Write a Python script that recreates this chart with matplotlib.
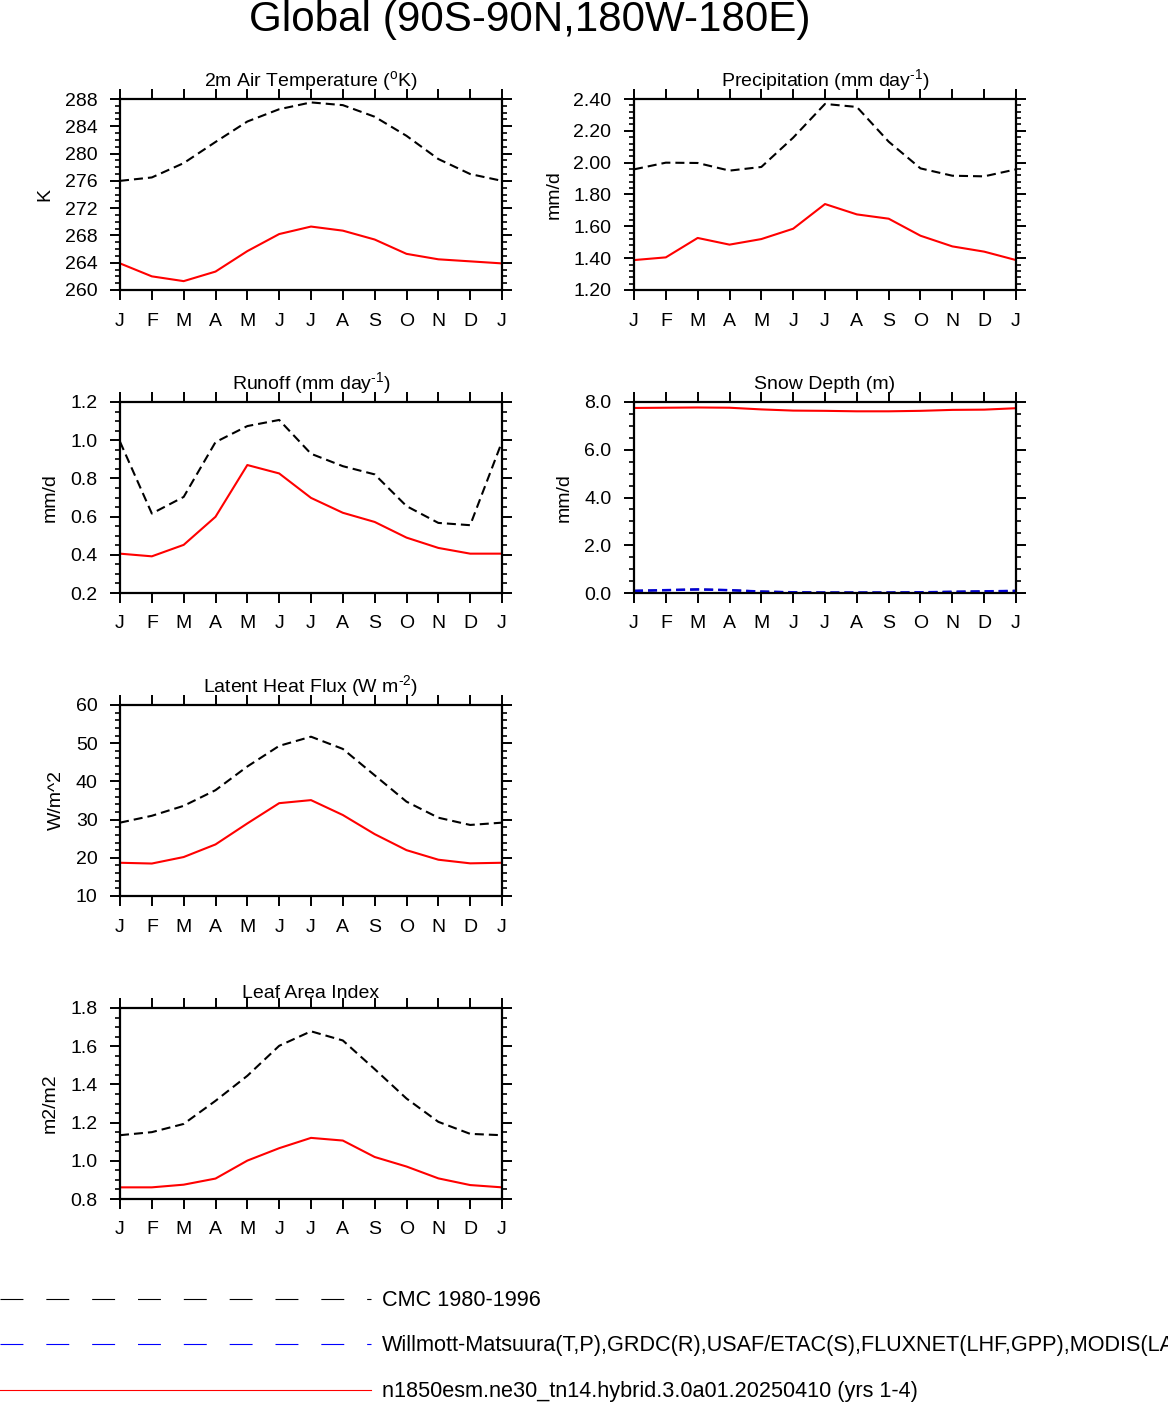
import numpy as np
import matplotlib
matplotlib.use("Agg")
import matplotlib.pyplot as plt
from matplotlib.lines import Line2D
from matplotlib.ticker import MultipleLocator, FormatStrFormatter

plt.rcParams['font.family'] = ['Liberation Sans', 'DejaVu Sans']
plt.rcParams['mathtext.fontset'] = 'custom'
plt.rcParams['mathtext.rm'] = 'Liberation Sans'
plt.rcParams['mathtext.it'] = 'Liberation Sans:italic'
plt.rcParams['mathtext.bf'] = 'Liberation Sans:bold'
plt.rcParams['lines.scale_dashes'] = False

months = ['J', 'F', 'M', 'A', 'M', 'J', 'J', 'A', 'S', 'O', 'N', 'D', 'J']

# 2m air temperature (K)
tsa_obs = [276.0, 276.5, 278.6, 281.7, 284.7, 286.5, 287.5, 287.1, 285.4, 282.6, 279.2, 277.0, 276.0]
tsa_mod = [263.9, 262.0, 261.3, 262.7, 265.7, 268.2, 269.3, 268.7, 267.4, 265.3, 264.5, 264.2, 263.9]

# precipitation (mm/d)
pre_obs = [1.958, 2.000, 1.998, 1.950, 1.973, 2.157, 2.369, 2.350, 2.132, 1.964, 1.918, 1.914, 1.958]
pre_mod = [1.388, 1.405, 1.527, 1.485, 1.520, 1.585, 1.740, 1.675, 1.648, 1.541, 1.474, 1.441, 1.388]

# runoff (mm/d)
ro_obs = [0.992, 0.616, 0.703, 0.990, 1.074, 1.106, 0.929, 0.864, 0.821, 0.655, 0.567, 0.555, 0.992]
ro_mod = [0.406, 0.392, 0.452, 0.599, 0.870, 0.826, 0.698, 0.620, 0.572, 0.490, 0.436, 0.406, 0.406]

# snow depth (m)
snow_obs = [0.09, 0.12, 0.15, 0.12, 0.06, 0.03, 0.02, 0.02, 0.02, 0.03, 0.05, 0.07, 0.09]
snow_mod = [7.75, 7.76, 7.77, 7.76, 7.69, 7.64, 7.63, 7.61, 7.61, 7.63, 7.67, 7.68, 7.74]

# latent heat flux (W/m2)
lhf_obs = [29.2, 31.0, 33.6, 37.7, 43.9, 49.3, 51.7, 48.5, 41.6, 34.7, 30.5, 28.6, 29.2]
lhf_mod = [18.7, 18.5, 20.2, 23.5, 29.0, 34.3, 35.1, 31.2, 26.2, 22.0, 19.5, 18.55, 18.7]

# leaf area index
lai_obs = [1.134, 1.150, 1.193, 1.314, 1.445, 1.602, 1.678, 1.630, 1.480, 1.326, 1.204, 1.141, 1.134]
lai_mod = [0.861, 0.861, 0.875, 0.907, 1.001, 1.066, 1.120, 1.106, 1.020, 0.970, 0.908, 0.873, 0.861]

legend_labels = ['CMC 1980-1996',
                 'Willmott-Matsuura(T,P),GRDC(R),USAF/ETAC(S),FLUXNET(LHF,GPP),MODIS(LAI)',
                 'n1850esm.ne30_tn14.hybrid.3.0a01.20250410 (yrs 1-4)']

W, H = 1168, 1402
fig = plt.figure(figsize=(W / 100, H / 100), dpi=100)

dash = (0, (6.5, 3.6))
lw = 1.5


def make_ax(left_px, top_px, ylim, major, minor, fmt, title, ylabel, title_off=10):
    ax = fig.add_axes([left_px / W, 1 - (top_px + 191) / H, 382 / W, 191 / H])
    ax.set_xlim(0, 12)
    ax.set_ylim(*ylim)
    ax.set_xticks(np.arange(13))
    ax.set_xticklabels(months)
    ax.yaxis.set_major_locator(MultipleLocator(major))
    ax.yaxis.set_minor_locator(MultipleLocator(minor))
    ax.yaxis.set_major_formatter(FormatStrFormatter(fmt))
    ax.tick_params(which='major', direction='out', length=7.2, width=1.4,
                   labelsize=14, pad=9, top=True, right=True)
    ax.tick_params(axis='y', which='minor', direction='out', length=3.6, width=1.2,
                   left=True, right=True)
    for s in ax.spines.values():
        s.set_linewidth(1.6)
    ax.text(0.5, 1 + title_off / 191, title, transform=ax.transAxes,
            ha='center', va='baseline', fontsize=14)
    ax.set_ylabel(ylabel, fontsize=14, labelpad=8)
    return ax


x = np.arange(13)
LX, RX = 120, 634
rows = [99, 402, 705, 1008]

ax = make_ax(LX, rows[0], (260, 288), 4, 1, '%d', r'2m Air Temperature ($^{\text{o}}$K)', 'K', 13)
ax.plot(x, tsa_obs, color='black', lw=lw, linestyle=dash)
ax.plot(x, tsa_mod, color='red', lw=lw)

ax = make_ax(RX, rows[0], (1.2, 2.4), 0.2, 0.04, '%.2f', r'Precipitation (mm day$^{\text{-1}}$)', 'mm/d', 13)
ax.plot(x, pre_obs, color='black', lw=lw, linestyle=dash)
ax.plot(x, pre_mod, color='red', lw=lw)

ax = make_ax(LX, rows[1], (0.2, 1.2), 0.2, 0.05, '%.1f', r'Runoff (mm day$^{\text{-1}}$)', 'mm/d', 13)
ax.plot(x, ro_obs, color='black', lw=lw, linestyle=dash)
ax.plot(x, ro_mod, color='red', lw=lw)

ax = make_ax(RX, rows[1], (0, 8), 2, 0.5, '%.1f', 'Snow Depth (m)', 'mm/d', 13)
ax.plot(x, snow_obs, color='black', lw=lw, linestyle=dash)
ax.plot(x, snow_obs, color='blue', lw=lw + 0.3, linestyle=dash, alpha=0.85)
ax.plot(x, snow_mod, color='red', lw=lw)

ax = make_ax(LX, rows[2], (10, 60), 10, 2, '%d', r'Latent Heat Flux (W m$^{\text{-2}}$)', 'W/m^2', 13)
ax.plot(x, lhf_obs, color='black', lw=lw, linestyle=dash)
ax.plot(x, lhf_mod, color='red', lw=lw)

ax = make_ax(LX, rows[3], (0.8, 1.8), 0.2, 0.05, '%.1f', 'Leaf Area Index', 'm2/m2', 10)
ax.plot(x, lai_obs, color='black', lw=lw, linestyle=dash)
ax.plot(x, lai_mod, color='red', lw=lw)

fig.text(530 / W, 1 - 31 / H, 'Global (90S-90N,180W-180E)', ha='center', va='baseline', fontsize=30.3)

# legend at the bottom
leg_y = [1299, 1344, 1390]
leg_style = [('black', (0, (16.5, 16.5))), ('blue', (0, (16.5, 16.5))), ('red', '-')]
for yy, (c, ls), lab in zip(leg_y, leg_style, legend_labels):
    fig.add_artist(Line2D([0, 371 / W], [1 - yy / H, 1 - yy / H], transform=fig.transFigure,
                          color=c, lw=0.8, linestyle=ls))
    fig.text(382 / W, 1 - (yy + 2) / H, lab, ha='left', va='center', fontsize=15.6)

fig.savefig('out.png', dpi=100)
